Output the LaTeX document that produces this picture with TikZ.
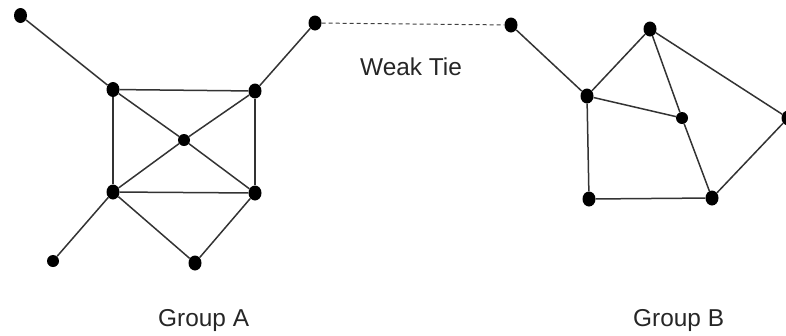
\documentclass[tikz,border=0pt]{standalone}
\usepackage{fontspec}
\setmainfont{Liberation Sans}
\usetikzlibrary{shapes.geometric}
\begin{document}
\begin{tikzpicture}[x=1bp,y=-1bp,
  vtx/.style={ellipse,fill=black,draw=none,inner sep=0pt,minimum width=13bp,minimum height=15bp},
  svtx/.style={ellipse,fill=black,draw=none,inner sep=0pt,minimum width=12bp,minimum height=12bp},
  edge/.style={draw=black!80,line width=1.5bp},
  weak/.style={draw=black!75,line width=1bp,dash pattern=on 4bp off 3bp},
  lbl/.style={font=\fontsize{24.5}{28}\selectfont,text=black!85,inner sep=0pt,anchor=base west}]
\useasboundingbox (0,0) rectangle (786,335);
% Group A
\node[vtx] (a1) at (20.5,15.5) {};
\node[vtx] (a2) at (113,89.5) {};
\node[vtx] (a3) at (255,91) {};
\node[svtx] (a4) at (184,140) {};
\node[vtx] (a5) at (113,192) {};
\node[vtx] (a6) at (255,193) {};
\node[vtx] (a7) at (195,263) {};
\node[svtx] (a8) at (53,261) {};
\node[vtx] (a9) at (315,23) {};
% Group B
\node[vtx] (b1) at (511,25) {};
\node[vtx] (b2) at (587,96) {};
\node[vtx] (b3) at (650,29) {};
\node[svtx] (b4) at (682,118) {};
\node[vtx] (b5) at (788,118) {};
\node[vtx] (b6) at (589,199) {};
\node[vtx] (b7) at (712,198) {};
% edges A
\draw[edge] (a1) -- (a2);
\draw[edge] (a2) -- (a3);
\draw[edge] (a2) -- (a5);
\draw[edge] (a2) -- (a4);
\draw[edge] (a4) -- (a6);
\draw[edge] (a3) -- (a4);
\draw[edge] (a4) -- (a5);
\draw[edge] (a3) -- (a6);
\draw[edge] (a5) -- (a6);
\draw[edge] (a5) -- (a7);
\draw[edge] (a6) -- (a7);
\draw[edge] (a5) -- (a8);
\draw[edge] (a3) -- (a9);
% edges B
\draw[edge] (b1) -- (b2);
\draw[edge] (b2) -- (b3);
\draw[edge] (b2) -- (b4);
\draw[edge] (b2) -- (b6);
\draw[edge] (b3) -- (b4);
\draw[edge] (b3) -- (b5);
\draw[edge] (b4) -- (b7);
\draw[edge] (b6) -- (b7);
\draw[edge] (b7) -- (b5);
% weak tie
\draw[weak] (a9) -- (b1);
% labels
\node[lbl] (wt) at (360,75) {Weak Tie};
\node[lbl] (ga) at (158,326) {Group A};
\node[lbl] (gb) at (633,326) {Group B};
\end{tikzpicture}
\end{document}
